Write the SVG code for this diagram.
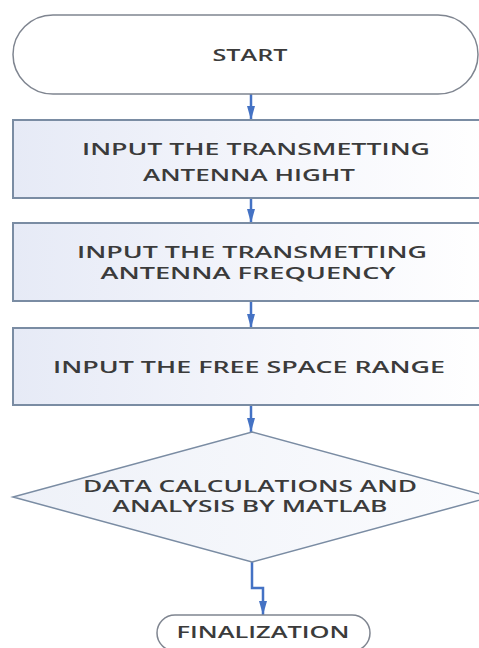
<svg xmlns="http://www.w3.org/2000/svg" width="479" height="648" viewBox="0 0 479 648">
  <defs>
    <linearGradient id="boxFill" x1="0" y1="0" x2="1" y2="0">
      <stop offset="0" stop-color="#E6EAF6"/>
      <stop offset="0.6" stop-color="#F6F7FC"/>
      <stop offset="1" stop-color="#FFFFFF"/>
    </linearGradient>
    <linearGradient id="diamondFill" x1="0" y1="0" x2="1" y2="0">
      <stop offset="0" stop-color="#EEF1F8"/>
      <stop offset="1" stop-color="#FBFCFE"/>
    </linearGradient>
    <marker id="arrow" viewBox="0 0 14 8" refX="14" refY="4" markerWidth="14" markerHeight="8" markerUnits="userSpaceOnUse" orient="auto">
      <path d="M0,0 L14,4 L0,8 Z" fill="#4472C4"/>
    </marker>
  </defs>
  <style>
    .terminal { fill: #FFFFFF; stroke: #7F8590; stroke-width: 1.5; }
    .process { fill: url(#boxFill); stroke: #7A8CA3; stroke-width: 2; }
    .decision { fill: url(#diamondFill); stroke: #7A8CA3; stroke-width: 1.5; }
    .label { font-family: "Open Sans", "Liberation Sans", sans-serif; font-weight: 600; font-size: 15.5px; fill: #3B3B3B; }
    .flow { fill: none; stroke: #4472C4; stroke-width: 2.5; marker-end: url(#arrow); }
  </style>

  <rect width="479" height="648" fill="#FFFFFF"/>

  <g id="connectors">
    <line class="flow" x1="251" y1="94" x2="251" y2="120"/>
    <line class="flow" x1="251" y1="198" x2="251" y2="223"/>
    <line class="flow" x1="251" y1="301" x2="251" y2="328"/>
    <line class="flow" x1="251" y1="405" x2="251" y2="432"/>
    <polyline class="flow" points="252,562 252,588 263,588 263,615"/>
  </g>

  <g id="start">
    <path class="terminal" d="M53,15 L438,15 A40,39.5 0 0 1 438,94 L53,94 A40,39.5 0 0 1 53,15 Z"/>
    <text class="label" x="250" y="61" text-anchor="middle" textLength="75" lengthAdjust="spacingAndGlyphs">START</text>
  </g>

  <g id="input-height">
    <rect class="process" x="13" y="120" width="478" height="78"/>
    <text class="label" x="256" y="155" text-anchor="middle" textLength="348" lengthAdjust="spacingAndGlyphs">INPUT THE TRANSMETTING</text>
    <text class="label" x="249" y="181" text-anchor="middle" textLength="212" lengthAdjust="spacingAndGlyphs">ANTENNA HIGHT</text>
  </g>

  <g id="input-frequency">
    <rect class="process" x="13" y="223" width="478" height="78"/>
    <text class="label" x="252" y="258" text-anchor="middle" textLength="350" lengthAdjust="spacingAndGlyphs">INPUT THE TRANSMETTING</text>
    <text class="label" x="248" y="279" text-anchor="middle" textLength="295" lengthAdjust="spacingAndGlyphs">ANTENNA FREQUENCY</text>
  </g>

  <g id="input-range">
    <rect class="process" x="13" y="328" width="478" height="77"/>
    <text class="label" x="249" y="373" text-anchor="middle" textLength="392" lengthAdjust="spacingAndGlyphs">INPUT THE FREE SPACE RANGE</text>
  </g>

  <g id="matlab-analysis">
    <polygon class="decision" points="252,432 491,497 252,562 13,497"/>
    <text class="label" x="250" y="492" text-anchor="middle" textLength="334" lengthAdjust="spacingAndGlyphs">DATA CALCULATIONS AND</text>
    <text class="label" x="250" y="512" text-anchor="middle" textLength="275" lengthAdjust="spacingAndGlyphs">ANALYSIS BY MATLAB</text>
  </g>

  <g id="finalization">
    <path class="terminal" d="M175,615 L352,615 A18,18 0 0 1 352,651 L175,651 A18,18 0 0 1 175,615 Z"/>
    <text class="label" x="263" y="638" text-anchor="middle" textLength="173" lengthAdjust="spacingAndGlyphs">FINALIZATION</text>
  </g>
</svg>
